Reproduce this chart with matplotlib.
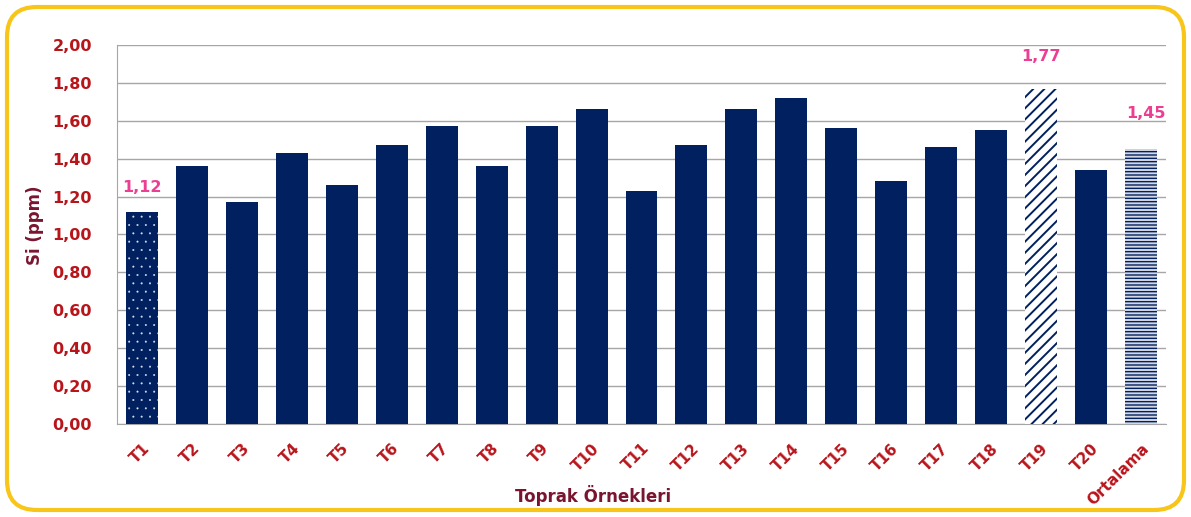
import numpy as np
import matplotlib.pyplot as plt
from matplotlib.patches import FancyBboxPatch

# Si values per soil sample (ppm)
samples = ['T1', 'T2', 'T3', 'T4', 'T5', 'T6', 'T7', 'T8', 'T9', 'T10',
           'T11', 'T12', 'T13', 'T14', 'T15', 'T16', 'T17', 'T18', 'T19', 'T20',
           'Ortalama']
si_values = [1.12, 1.36, 1.17, 1.43, 1.26, 1.47, 1.57, 1.36, 1.57, 1.66,
             1.23, 1.47, 1.66, 1.72, 1.56, 1.28, 1.46, 1.55, 1.77, 1.34,
             1.45]
labelled = {0: '1,12', 18: '1,77', 20: '1,45'}
y_ticks = [0.0, 0.2, 0.4, 0.6, 0.8, 1.0, 1.2, 1.4, 1.6, 1.8, 2.0]

navy = '#002060'
tick_red = '#B8151B'
maroon = '#7A1530'
pink = '#EC3E92'

fig = plt.figure(figsize=(11.91, 5.17), dpi=100)
ax = fig.add_axes([117 / 1191, 1 - 424 / 517, (1166 - 117) / 1191, (424 - 45) / 517])

x = np.arange(len(samples))
bars = ax.bar(x, si_values, width=0.64, color=navy, linewidth=0, zorder=3)

# special fills: T1 dotted, T19 diagonal stripes, average horizontal stripes
def style_bar(b, face, edge, hatch, lw):
    b.set_facecolor(face)
    b.set_edgecolor(edge)
    b.set_hatch(hatch)
    b.set_linewidth(0)
    try:
        b.set_hatch_linewidth(lw)
    except AttributeError:
        pass

style_bar(bars[0], navy, '#DDE3F0', '..', 0.2)
style_bar(bars[18], 'white', navy, '///', 1.4)
style_bar(bars[20], '#D3D8E2', navy, '-----', 1.0)

# label offsets (value units) and small x nudges, as in the original
offsets = {0: (0.0, 0.09), 18: (0.0, 0.13), 20: (0.1, 0.15)}
for i, txt in labelled.items():
    dx, dy = offsets[i]
    ax.text(x[i] + dx, si_values[i] + dy, txt, ha='center', va='bottom',
            color=pink, fontsize=11.5, fontweight='bold')

ax.set_ylim(0, 2.0)
ax.set_xlim(-0.5, len(samples) - 0.5)
ax.set_yticks(y_ticks)
ax.set_yticklabels([f'{v:.2f}'.replace('.', ',') for v in y_ticks],
                   color=tick_red, fontsize=11.5, fontweight='bold')
ax.set_xticks(x)
ax.set_xticklabels(samples, rotation=45, ha='right', rotation_mode='anchor',
                   color=tick_red, fontsize=11, fontweight='bold')
ax.tick_params(axis='both', length=0)
ax.tick_params(axis='y', pad=18)
ax.tick_params(axis='x', pad=12)

ax.yaxis.grid(True, color='#A6A6A6', linewidth=1.0, zorder=0)
ax.set_axisbelow(True)
for side in ['top', 'right']:
    ax.spines[side].set_visible(False)
ax.spines['left'].set_color('#A6A6A6')
ax.spines['bottom'].set_color('#A6A6A6')

fig.text(35 / 1191, 1 - 225 / 517, 'Si (ppm)', rotation=90, ha='center', va='center',
         color=maroon, fontsize=12, fontweight='bold')
fig.text(593 / 1191, 1 - 495 / 517, 'Toprak Örnekleri', ha='center', va='center',
         color=maroon, fontsize=12, fontweight='bold')

# rounded yellow frame
frame = FancyBboxPatch((7 / 1191, 7 / 517), 1177 / 1191, 503 / 517,
                       boxstyle='round,pad=0,rounding_size=0.025',
                       transform=fig.transFigure, facecolor='none',
                       edgecolor='#F8C61A', linewidth=3.0,
                       mutation_aspect=1191 / 517)
fig.patches.append(frame)

fig.savefig('out.png', dpi=100)
